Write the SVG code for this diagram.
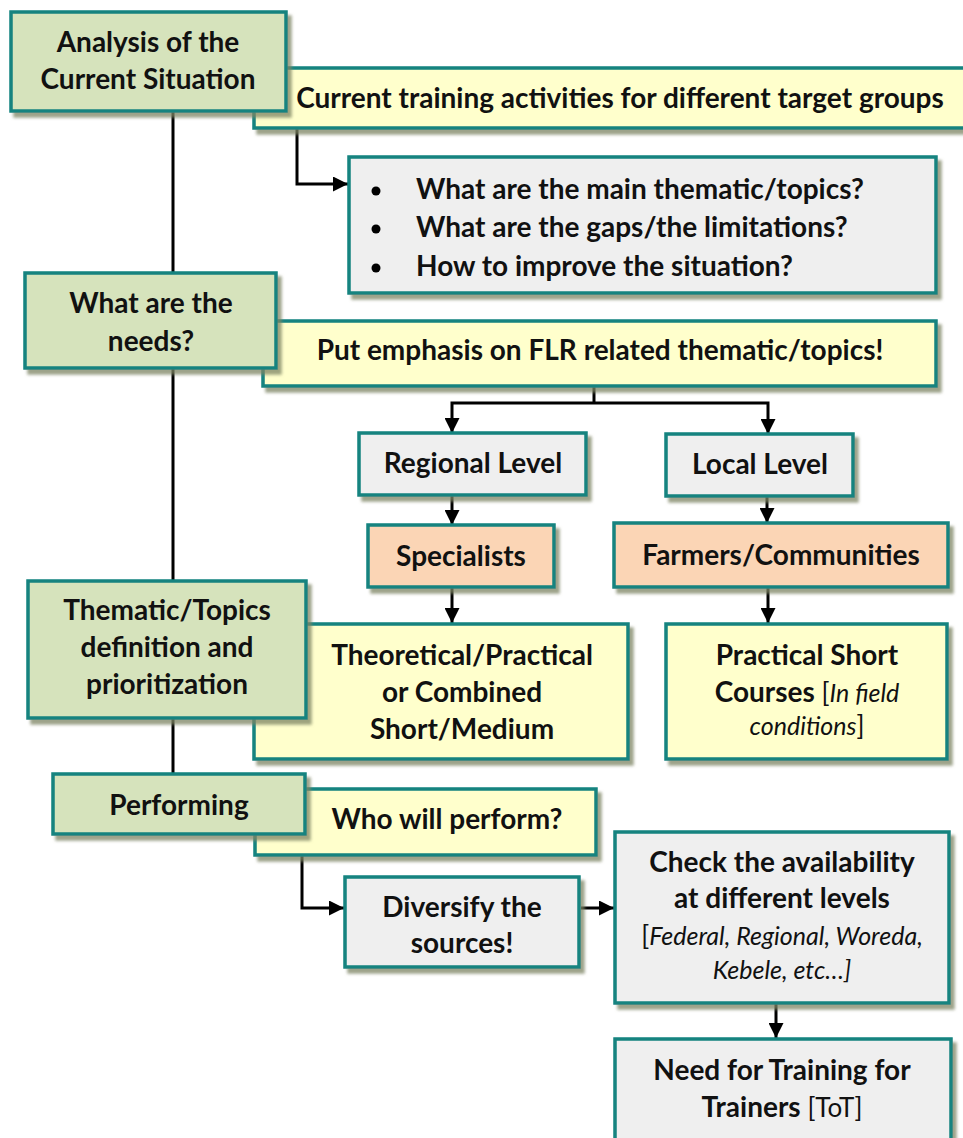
<svg xmlns="http://www.w3.org/2000/svg" width="963" height="1138" viewBox="0 0 963 1138">
  <defs>
    <filter id="shadow" x="-5%" y="-5%" width="115%" height="125%">
      <feDropShadow dx="4" dy="5" stdDeviation="1.5" flood-color="#7d8463" flood-opacity="0.75"/>
    </filter>
    <marker id="arrow" viewBox="0 0 10 10" refX="10" refY="5" markerWidth="5" markerHeight="5" orient="auto" markerUnits="strokeWidth">
      <path d="M0,0 L10,5 L0,10 Z" fill="#000"/>
    </marker>
    <style>
      .box { stroke: #15837f; stroke-width: 3.5; filter: url(#shadow); }
      .green { fill: #d6e3bc; }
      .yellow { fill: #ffffcc; }
      .grey { fill: #efefef; }
      .salmon { fill: #fbd5b5; }
      .t { font-family: Lato, "Open Sans", sans-serif; font-weight: bold; font-size: 28px; fill: #111; text-anchor: middle; }
      .tl { text-anchor: start; }
      .it { font-weight: normal; font-style: italic; font-size: 25px; }
      .rg { font-weight: normal; font-size: 26px; }
      .line { fill: none; stroke: #000; stroke-width: 3; }
      .arr { fill: none; stroke: #000; stroke-width: 3; marker-end: url(#arrow); }
    </style>
  </defs>

  <!-- main vertical spine and arrows -->
  <g id="connectors">
    <line class="line" x1="173" y1="111" x2="173" y2="775"/>
    <path class="arr" d="M297,128 V184 H348"/>
    <path class="line" d="M594,387 V403"/>
    <path class="arr" d="M594,403 H452 V433"/>
    <path class="arr" d="M594,403 H768 V434"/>
    <path class="arr" d="M452,496 V525"/>
    <path class="arr" d="M767,497 V523"/>
    <path class="arr" d="M452,588 V623"/>
    <path class="arr" d="M768,588 V623"/>
    <path class="arr" d="M302,856 V908 H344"/>
    <path class="arr" d="M581,908 H614"/>
    <path class="arr" d="M776,1004 V1038"/>
  </g>

  <g id="current-training">
    <rect class="box yellow" x="254" y="68" width="712" height="60"/>
    <text class="t" x="620" y="108">Current training activities for different target groups</text>
  </g>
  <g id="analysis">
    <rect class="box green" x="11" y="12" width="275" height="99"/>
    <text class="t" x="148" y="52">Analysis of the</text>
    <text class="t" x="148" y="89">Current Situation</text>
  </g>

  <g id="questions">
    <rect class="box grey" x="349" y="157" width="587" height="136"/>
    <circle cx="376" cy="191" r="4.5" fill="#000"/>
    <circle cx="376" cy="229" r="4.5" fill="#000"/>
    <circle cx="376" cy="268" r="4.5" fill="#000"/>
    <text class="t tl" x="416" y="199">What are the main thematic/topics?</text>
    <text class="t tl" x="416" y="237">What are the gaps/the limitations?</text>
    <text class="t tl" x="416" y="276">How to improve the situation?</text>
  </g>

  <g id="emphasis">
    <rect class="box yellow" x="263" y="321" width="673" height="65"/>
    <text class="t" x="600" y="360">Put emphasis on FLR related thematic/topics!</text>
  </g>
  <g id="needs">
    <rect class="box green" x="25" y="273" width="251" height="95"/>
    <text class="t" x="151" y="313">What are the</text>
    <text class="t" x="151" y="351">needs?</text>
  </g>

  <g id="regional-level">
    <rect class="box grey" x="359" y="433" width="227" height="62"/>
    <text class="t" x="473" y="473">Regional Level</text>
  </g>
  <g id="local-level">
    <rect class="box grey" x="666" y="434" width="187" height="62"/>
    <text class="t" x="760" y="474">Local Level</text>
  </g>

  <g id="specialists">
    <rect class="box salmon" x="368" y="525" width="186" height="62"/>
    <text class="t" x="461" y="566">Specialists</text>
  </g>
  <g id="farmers">
    <rect class="box salmon" x="614" y="523" width="334" height="64"/>
    <text class="t" x="781" y="565">Farmers/Communities</text>
  </g>

  <g id="theoretical">
    <rect class="box yellow" x="254" y="624" width="374" height="135"/>
    <text class="t" x="462" y="665">Theoretical/Practical</text>
    <text class="t" x="462" y="702">or Combined</text>
    <text class="t" x="462" y="739">Short/Medium</text>
  </g>
  <g id="thematic">
    <rect class="box green" x="28" y="581" width="278" height="137"/>
    <text class="t" x="167" y="620">Thematic/Topics</text>
    <text class="t" x="167" y="657">definition and</text>
    <text class="t" x="167" y="694">prioritization</text>
  </g>

  <g id="practical">
    <rect class="box yellow" x="666" y="624" width="281" height="135"/>
    <text class="t" x="807" y="665">Practical Short</text>
    <text class="t" x="807" y="702">Courses <tspan class="rg">[</tspan><tspan class="it">In field</tspan></text>
    <text class="t" x="807" y="735"><tspan class="it">conditions</tspan><tspan class="rg">]</tspan></text>
  </g>

  <g id="who-will-perform">
    <rect class="box yellow" x="255" y="789" width="341" height="66"/>
    <text class="t" x="447" y="829">Who will perform?</text>
  </g>
  <g id="performing">
    <rect class="box green" x="53" y="774" width="252" height="60"/>
    <text class="t" x="179" y="815">Performing</text>
  </g>

  <g id="diversify">
    <rect class="box grey" x="345" y="877" width="234" height="90"/>
    <text class="t" x="462" y="917">Diversify the</text>
    <text class="t" x="462" y="953">sources!</text>
  </g>

  <g id="availability">
    <rect class="box grey" x="615" y="832" width="334" height="171"/>
    <text class="t" x="782" y="872">Check the availability</text>
    <text class="t" x="782" y="908">at different levels</text>
    <text class="t" x="782" y="945"><tspan class="rg">[</tspan><tspan class="it">Federal, Regional, Woreda,</tspan></text>
    <text class="t" x="782" y="979"><tspan class="it">Kebele, etc…]</tspan></text>
  </g>

  <g id="tot">
    <rect class="box grey" x="615" y="1039" width="336" height="110"/>
    <text class="t" x="782" y="1080">Need for Training for</text>
    <text class="t" x="782" y="1117">Trainers <tspan class="rg">[ToT]</tspan></text>
  </g>
</svg>
